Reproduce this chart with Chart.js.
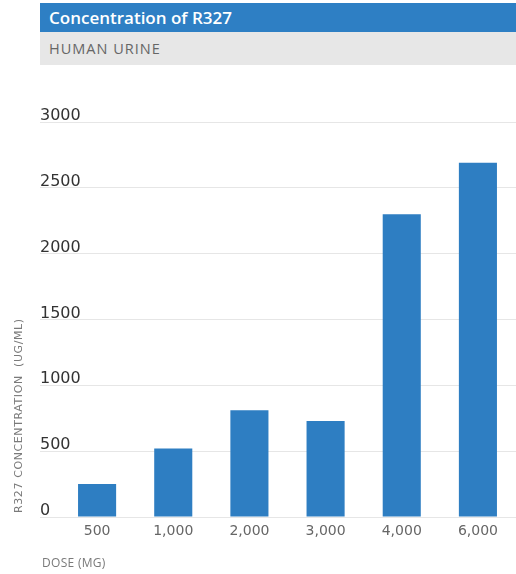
<!DOCTYPE html>
<html>
<head>
<meta charset="utf-8">
<script src="https://cdn.jsdelivr.net/npm/chart.js@4"></script>
<style>
  html, body { margin: 0; padding: 0; background: #fff; }
  body { width: 516px; height: 574px; position: relative; overflow: hidden; }
  #hdr1 { position: absolute; left: 40px; top: 3px; width: 476px; height: 29px; background: #2E7FC4;
          color: #fff; font: 600 17px "Open Sans", sans-serif; line-height: 29px; padding-left: 9px; box-sizing: border-box; }
  #hdr2 { position: absolute; left: 40px; top: 32px; width: 476px; height: 33px; background: #E7E7E7;
          color: #666; font: 400 14.5px "Open Sans", sans-serif; letter-spacing: 1px; line-height: 33px; padding-left: 9px; box-sizing: border-box; }
  #wrap { position: absolute; left: 0; top: 0; width: 516px; height: 574px; }
</style>
</head>
<body>
<div id="wrap"><canvas id="c" width="516" height="574"></canvas></div>
<div id="hdr1">Concentration of R327</div>
<div id="hdr2">HUMAN URINE</div>
<script>
const categories = ["500", "1,000", "2,000", "3,000", "4,000", "6,000"];
const concentration = [250, 520, 810, 730, 2300, 2690];
const yTicks = [0, 500, 1000, 1500, 2000, 2500, 3000];
const yTitle = "R327 CONCENTRATION  (UG/ML)";
const xTitle = "DOSE (MG)";

const titlesPlugin = {
  id: 'titles',
  afterDraw(chart) {
    const ctx = chart.ctx;
    ctx.save();
    ctx.fillStyle = '#7a7a7a';
    ctx.font = '11px "DejaVu Sans"';
    ctx.letterSpacing = '0.6px';
    ctx.textBaseline = 'middle';
    ctx.textAlign = 'left';
    ctx.translate(19, 513);
    ctx.rotate(-Math.PI / 2);
    ctx.fillText(yTitle, 0, 0);
    ctx.restore();
    ctx.save();
    ctx.fillStyle = '#7a7a7a';
    ctx.font = '12px "Open Sans"';
    ctx.letterSpacing = '0.3px';
    ctx.textBaseline = 'middle';
    ctx.textAlign = 'left';
    ctx.fillText(xTitle, 42, 564);
    ctx.restore();
  }
};

new Chart(document.getElementById('c'), {
  type: 'bar',
  data: {
    labels: categories,
    datasets: [{
      data: concentration,
      backgroundColor: '#2E7EC2',
      borderWidth: 0,
      categoryPercentage: 1.0,
      barPercentage: 0.5
    }]
  },
  options: {
    responsive: false,
    animation: false,
    layout: { padding: { left: 40, top: 122, right: 0, bottom: 0 } },
    plugins: { legend: { display: false }, tooltip: { enabled: false }, title: { display: false } },
    scales: {
      x: {
        grid: { display: false, drawTicks: false },
        border: { display: false },
        ticks: { color: '#666', font: { family: 'DejaVu Sans', size: 14 }, padding: 6, maxRotation: 0 },
        afterFit(s) { s.height = 57; }
      },
      y: {
        min: 0, max: 3000,
        afterBuildTicks(s) { s.ticks = yTicks.map(v => ({ value: v })); },
        grid: { color: '#e6e6e6', lineWidth: 1, drawTicks: true, tickLength: 19, tickColor: '#e6e6e6' },
        border: { display: false },
        ticks: {
          color: '#333', font: { family: 'DejaVu Sans', size: 16 },
          mirror: true, crossAlign: 'near', padding: -19, labelOffset: -6,
          callback: v => String(v)
        },
        afterFit(s) { s.width = 19; }
      }
    }
  },
  plugins: [titlesPlugin]
});
</script>
</body>
</html>
